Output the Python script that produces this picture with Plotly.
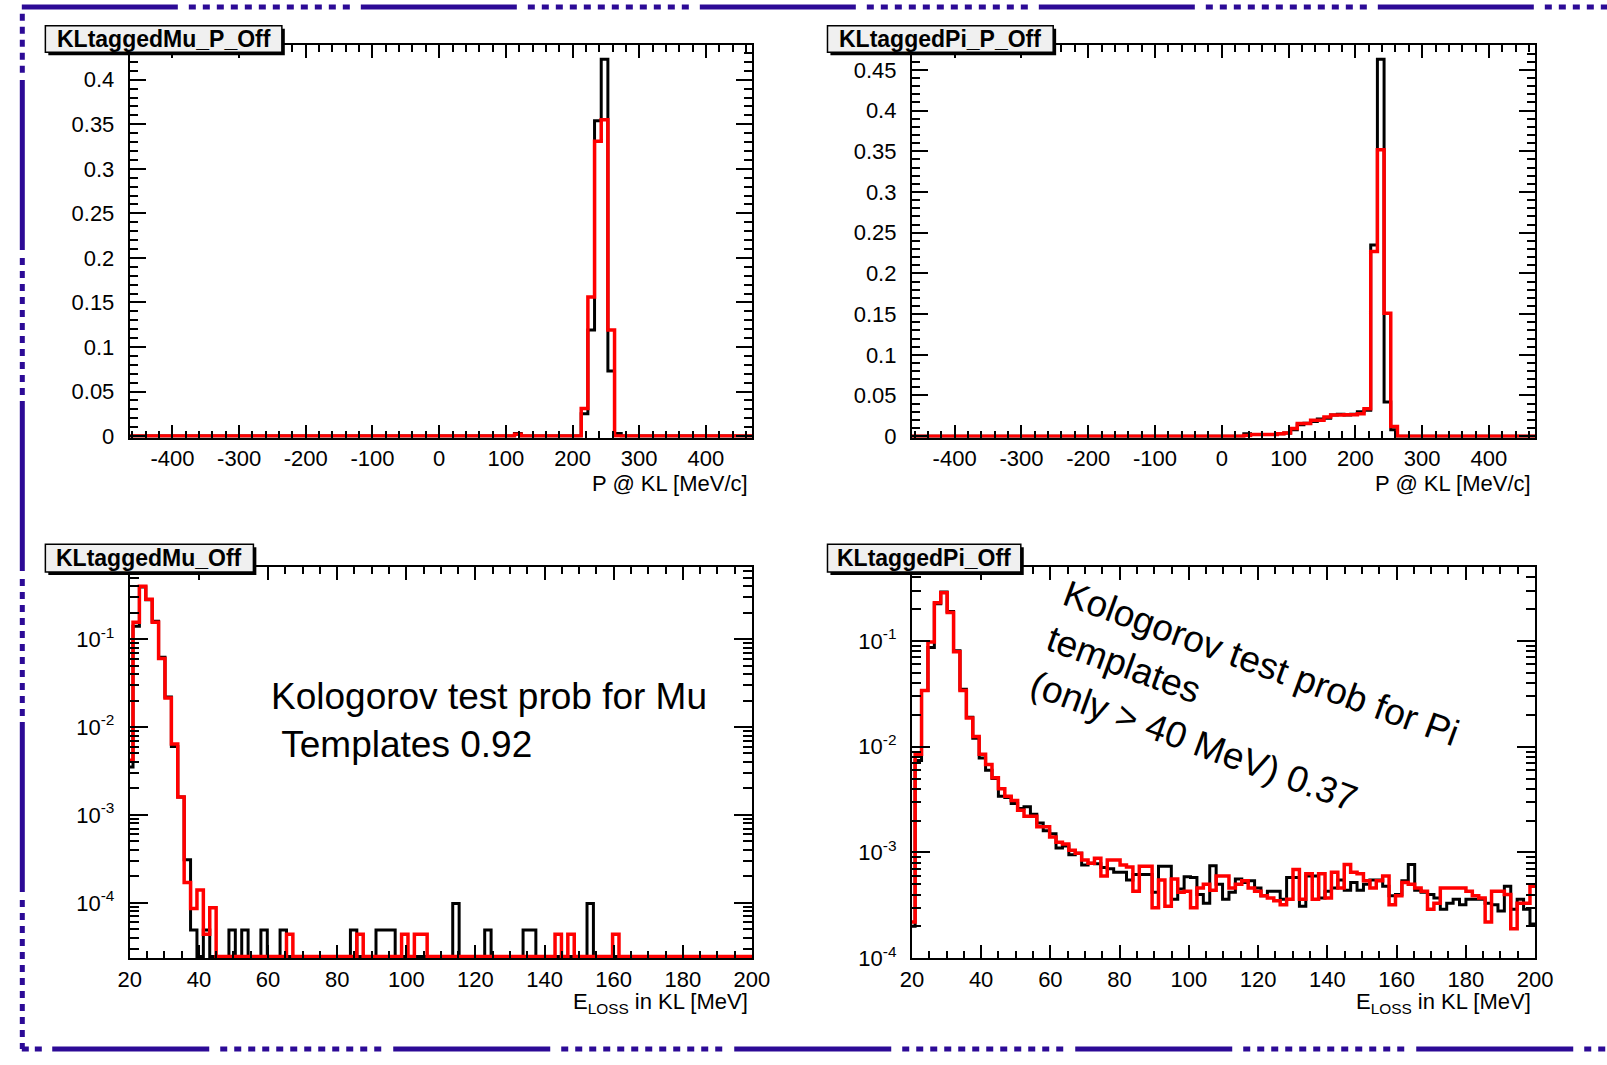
import plotly.graph_objects as go

W, H = 1607, 1065
FONT = "Liberation Sans, Arial, Helvetica, sans-serif"

# ------------------------------------------------------------------
# DATA
# ------------------------------------------------------------------
# Momentum histograms: 10 MeV/c bins, low edges listed for non-empty bins
P_BIN_START = -467.0
P_BIN_WIDTH = 10.0
P_NBINS = 94

MU_P_BIN_LOW = [113, 213, 223, 233, 243, 253, 263]
MU_P_DATA = [0.003, 0.025, 0.119, 0.354, 0.423, 0.073, 0.003]
MU_P_MC = [0.002, 0.031, 0.156, 0.331, 0.355, 0.119, 0.0]

PI_P_BIN_LOW = [33, 43, 53, 63, 73, 83, 93, 103, 113, 123, 133, 143,
                153, 163, 173, 183, 193, 203, 213, 223, 233, 243, 253]
PI_P_DATA = [0.003, 0.002, 0.002, 0.002, 0.002, 0.003, 0.004, 0.008, 0.014,
             0.016, 0.018, 0.021, 0.022, 0.026, 0.027, 0.026, 0.027, 0.030,
             0.032, 0.235, 0.463, 0.042, 0.008]
PI_P_MC = [0.001, 0.002, 0.002, 0.002, 0.002, 0.003, 0.004, 0.0094, 0.0155,
           0.0155, 0.0195, 0.0195, 0.0236, 0.026, 0.026, 0.0265, 0.0265,
           0.0276, 0.0336, 0.227, 0.352, 0.151, 0.012]

# Energy-loss histograms: bins of 1.85 MeV, first bin starts below 20 MeV
E_BIN_START = 19.09
E_BIN_WIDTH = 1.85
E_NBINS = 98

MU_E_MC = [
    4.2e-3,
    0.155, 0.40, 0.284, 0.155, 0.060, 0.0214, 6.4e-3, 1.6e-3, 1.7e-4, 8.6e-5,
    1.4e-4, 4.4e-5, 8.8e-5, 0, 0, 0, 0, 0, 0, 0,
    0, 0, 0, 0, 4.4e-5, 0, 0, 0, 0, 0,
    0, 0, 0, 0, 0, 4.4e-5, 0, 0, 0, 0,
    0, 0, 4.4e-5, 0, 4.4e-5, 4.4e-5, 0, 0, 0, 0,
    0, 0, 0, 0, 0, 0, 0, 0, 0, 0,
    0, 0, 0, 0, 0, 0, 4.4e-5, 0, 4.4e-5, 0,
    0, 0, 0, 0, 0, 4.4e-5, 0, 0, 0, 0,
    0, 0, 0, 0, 0, 0, 0, 0, 0, 0,
    0, 0, 0, 0, 0, 0, 0,
]
MU_E_DATA = [
    3.5e-3,
    0.14, 0.39, 0.28, 0.16, 0.062, 0.022, 6.0e-3, 1.6e-3, 3.1e-4, 4.9e-5,
    0, 4.9e-5, 0, 0, 0, 4.9e-5, 0, 4.9e-5, 0, 0,
    4.9e-5, 0, 0, 4.9e-5, 0, 0, 0, 0, 0, 0,
    0, 0, 0, 0, 4.9e-5, 0, 0, 0, 4.9e-5, 4.9e-5,
    4.9e-5, 0, 0, 0, 0, 0, 0, 0, 0, 0,
    9.8e-5, 0, 0, 0, 0, 4.9e-5, 0, 0, 0, 0,
    0, 4.9e-5, 4.9e-5, 0, 0, 0, 0, 0, 0, 0,
    0, 9.8e-5, 0, 0, 0, 0, 0, 0, 0, 0,
    0, 0, 0, 0, 0, 0, 0, 0, 0, 0,
    0, 0, 0, 0, 0, 0, 0,
]
PI_E_MC = [
    2.2e-4,
    8.5e-3, 0.034, 0.098, 0.23, 0.286, 0.186, 0.079, 0.034, 0.0187, 0.0125,
    8.5e-3, 6.8e-3, 5.1e-3, 4.0e-3, 3.4e-3, 3.1e-3, 2.5e-3, 2.2e-3, 2.2e-3, 1.75e-3,
    1.75e-3, 1.4e-3, 1.25e-3, 1.2e-3, 1.05e-3, 9.8e-4, 8.5e-4, 7.9e-4, 8.8e-4, 6.0e-4,
    8.5e-4, 8.5e-4, 7.6e-4, 7.3e-4, 4.3e-4, 7.4e-4, 7.4e-4, 3.0e-4, 5.5e-4, 3.1e-4,
    5.6e-4, 4.2e-4, 4.3e-4, 3.0e-4, 4.6e-4, 5.0e-4, 4.4e-4, 6.0e-4, 6.0e-4, 4.6e-4,
    5.0e-4, 5.4e-4, 4.6e-4, 4.3e-4, 3.9e-4, 3.7e-4, 3.5e-4, 3.2e-4, 3.6e-4, 6.9e-4,
    3.6e-4, 6.3e-4, 3.6e-4, 6.3e-4, 3.7e-4, 6.5e-4, 4.6e-4, 7.7e-4, 6.5e-4, 6.3e-4,
    5.4e-4, 4.6e-4, 5.4e-4, 6.0e-4, 3.2e-4, 3.9e-4, 5.2e-4, 5.0e-4, 4.6e-4, 4.3e-4,
    2.9e-4, 3.3e-4, 4.6e-4, 4.6e-4, 4.6e-4, 4.6e-4, 4.3e-4, 3.9e-4, 3.7e-4, 2.2e-4,
    4.3e-4, 4.3e-4, 4.0e-4, 1.9e-4, 3.3e-4, 3.3e-4, 4.8e-4,
]
PI_E_DATA = [
    2.0e-4,
    7.4e-3, 0.034, 0.087, 0.225, 0.29, 0.19, 0.081, 0.035, 0.019, 0.012,
    7.8e-3, 6.0e-3, 5.0e-3, 3.4e-3, 3.3e-3, 2.9e-3, 2.6e-3, 2.7e-3, 2.3e-3, 1.9e-3,
    1.6e-3, 1.5e-3, 1.1e-3, 1.15e-3, 9.5e-4, 9.8e-4, 7.6e-4, 7.9e-4, 7.8e-4, 7.2e-4,
    7.0e-4, 6.5e-4, 6.5e-4, 5.5e-4, 6.2e-4, 6.2e-4, 6.2e-4, 4.2e-4, 7.4e-4, 7.4e-4,
    3.6e-4, 4.5e-4, 5.9e-4, 5.8e-4, 4.0e-4, 3.3e-4, 7.5e-4, 5.0e-4, 3.6e-4, 4.2e-4,
    5.6e-4, 5.2e-4, 5.4e-4, 4.6e-4, 3.9e-4, 4.3e-4, 4.3e-4, 3.6e-4, 5.8e-4, 5.8e-4,
    3.1e-4, 6.0e-4, 6.0e-4, 3.7e-4, 4.3e-4, 4.6e-4, 5.5e-4, 4.4e-4, 5.2e-4, 4.4e-4,
    5.0e-4, 5.5e-4, 5.5e-4, 4.8e-4, 3.9e-4, 4.0e-4, 5.4e-4, 7.7e-4, 4.4e-4, 4.2e-4,
    4.0e-4, 3.7e-4, 2.9e-4, 3.3e-4, 3.6e-4, 3.2e-4, 3.6e-4, 3.6e-4, 3.6e-4, 3.3e-4,
    3.2e-4, 2.8e-4, 4.8e-4, 2.9e-4, 3.6e-4, 2.9e-4, 2.1e-4,
]

PANEL_TITLES = ["KLtaggedMu_P_Off", "KLtaggedPi_P_Off", "KLtaggedMu_Off", "KLtaggedPi_Off"]
P_TICKS = [-400, -300, -200, -100, 0, 100, 200, 300, 400]
E_TICKS = [20, 40, 60, 80, 100, 120, 140, 160, 180, 200]
MU_P_YTICKS = [0, 0.05, 0.1, 0.15, 0.2, 0.25, 0.3, 0.35, 0.4]
PI_P_YTICKS = [0, 0.05, 0.1, 0.15, 0.2, 0.25, 0.3, 0.35, 0.4, 0.45]
LOG_TICKS = [1e-4, 1e-3, 1e-2, 1e-1]
LOG_TICKTEXT = ["10<sup>-4</sup>", "10<sup>-3</sup>", "10<sup>-2</sup>", "10<sup>-1</sup>"]
P_AXIS_TITLE = "P @ KL [MeV/c]"
E_AXIS_TITLE = "E<sub>LOSS</sub> in KL [MeV]"
TEXT_MU = "Kologorov test prob for Mu<br>\u00a0Templates 0.92"
TEXT_PI = "Kologorov test prob for Pi<br>templates<br>(only > 40 MeV) 0.37"

DATA_COLOR = "black"
MC_COLOR = "#ff0000"
BORDER_COLOR = "#2c0a96"


# ------------------------------------------------------------------
# helpers
# ------------------------------------------------------------------
def px(x):
    return x / W


def py(y):
    return 1 - y / H


def fill_p(lows, vals):
    out = [0.0] * P_NBINS
    for lo, v in zip(lows, vals):
        out[int(round((lo - P_BIN_START) / P_BIN_WIDTH))] = v
    return out


P_EDGES = [P_BIN_START + P_BIN_WIDTH * i for i in range(P_NBINS + 1)]
E_EDGES = [E_BIN_START + E_BIN_WIDTH * i for i in range(E_NBINS + 1)]


def step(edges, vals, color, width, xa, ya):
    return go.Scatter(x=edges, y=list(vals) + [vals[-1]], mode="lines",
                      line=dict(color=color, width=width, shape="hv"),
                      xaxis=xa, yaxis=ya, showlegend=False, hoverinfo="skip")


def floor_zero(vals, floor):
    return [v if v > 0 else floor for v in vals]


# panel frames (pixel coordinates)
FRAMES = {
    1: (120, 754, 46, 443),
    2: (917, 1552, 46, 443),
    3: (120, 754, 574, 970),
    4: (917, 1552, 574, 970),
}

fig = go.Figure()

BL_RANGE = [-4.629, -0.180]
BR_RANGE = [-4.0, -0.30]
BL_FLOOR = 10 ** (BL_RANGE[0] + 0.02)
BR_FLOOR = 10 ** (BR_RANGE[0] + 0.015)

fig.add_trace(step(P_EDGES, fill_p(MU_P_BIN_LOW, MU_P_DATA), DATA_COLOR, 3, "x", "y"))
fig.add_trace(step(P_EDGES, fill_p(MU_P_BIN_LOW, MU_P_MC), MC_COLOR, 3.5, "x", "y"))
fig.add_trace(step(P_EDGES, fill_p(PI_P_BIN_LOW, PI_P_DATA), DATA_COLOR, 3, "x2", "y2"))
fig.add_trace(step(P_EDGES, fill_p(PI_P_BIN_LOW, PI_P_MC), MC_COLOR, 3.5, "x2", "y2"))
fig.add_trace(step(E_EDGES, floor_zero(MU_E_DATA, BL_FLOOR), DATA_COLOR, 3, "x3", "y3"))
fig.add_trace(step(E_EDGES, floor_zero(MU_E_MC, BL_FLOOR), MC_COLOR, 3.5, "x3", "y3"))
fig.add_trace(step(E_EDGES, floor_zero(PI_E_DATA, BR_FLOOR), DATA_COLOR, 3, "x4", "y4"))
fig.add_trace(step(E_EDGES, floor_zero(PI_E_MC, BR_FLOOR), MC_COLOR, 3.5, "x4", "y4"))


def fmt(v):
    return "%g" % v


TICK_FONT = dict(family=FONT, size=22, color="black")


def base_axis():
    return dict(showline=True, linecolor="black", linewidth=2, mirror="ticks",
                ticks="inside", tickcolor="black", tickwidth=2,
                showgrid=False, zeroline=False, fixedrange=True,
                tickfont=TICK_FONT, tickmode="array")


P_MINOR = [v for v in range(-460, 461, 20) if v % 100 != 0]
E_MINOR = [v for v in range(25, 200, 5) if v % 20 != 0]


def log_minor(lo, hi):
    out = []
    for e in range(-6, 1):
        for m in range(2, 10):
            v = m * 10 ** e
            if 10 ** lo < v < 10 ** hi:
                out.append(v)
    return out


layout_axes = {}
for i in (1, 2, 3, 4):
    x0, x1, y0, y1 = FRAMES[i]
    xa = base_axis()
    ya = base_axis()
    sfx = "" if i == 1 else str(i)
    xa.update(domain=[px(x0), px(x1)], anchor="y" + sfx, ticklen=13,
              ticklabelstandoff=0)
    ya.update(domain=[py(y1), py(y0)], anchor="x" + sfx, ticklabelstandoff=9)
    if i in (1, 2):
        xa.update(range=[-464, 469], tickvals=P_TICKS, ticktext=[str(t) for t in P_TICKS],
                  minor=dict(ticks="inside", ticklen=7, tickwidth=1.5, tickcolor="black",
                             tickmode="array", tickvals=P_MINOR))
        yt = MU_P_YTICKS if i == 1 else PI_P_YTICKS
        top = 0.4385 if i == 1 else 0.480
        ya.update(range=[-0.0017, top], tickvals=yt, ticktext=[fmt(t) for t in yt],
                  ticklen=16,
                  minor=dict(ticks="inside", ticklen=8, tickwidth=1.5, tickcolor="black",
                             tickmode="array",
                             tickvals=[k / 100 for k in range(1, int(top * 100) + 1) if k % 5 != 0]))
    else:
        rng = BL_RANGE if i == 3 else BR_RANGE
        xa.update(range=[20, 200], tickvals=E_TICKS, ticktext=[str(t) for t in E_TICKS],
                  minor=dict(ticks="inside", ticklen=7, tickwidth=1.5, tickcolor="black",
                             tickmode="array", tickvals=E_MINOR))
        ya.update(type="log", range=rng, tickvals=LOG_TICKS, ticktext=LOG_TICKTEXT,
                  ticklen=18,
                  minor=dict(ticks="inside", ticklen=9, tickwidth=1.5, tickcolor="black",
                             tickmode="array", tickvals=log_minor(*rng)))
    layout_axes["xaxis" + sfx] = xa
    layout_axes["yaxis" + sfx] = ya

fig.update_layout(**layout_axes)

shapes = []
annotations = []

# panel title boxes (with ROOT-style shadow)
TITLE_BOXES = [(34, 275, 26, 53), (831, 1061, 26, 53), (34, 246, 551, 579), (831, 1028, 551, 579)]
for (bx0, bx1, by0, by1), title in zip(TITLE_BOXES, PANEL_TITLES):
    shapes.append(dict(type="rect", xref="paper", yref="paper",
                       x0=px(bx0 + 3), x1=px(bx1 + 3), y0=py(by1 + 3), y1=py(by0 + 3),
                       fillcolor="black", line=dict(width=0), layer="above"))
    shapes.append(dict(type="rect", xref="paper", yref="paper",
                       x0=px(bx0), x1=px(bx1), y0=py(by1), y1=py(by0),
                       fillcolor="#f0f0f0", line=dict(color="black", width=1.5), layer="above"))
    annotations.append(dict(xref="paper", yref="paper", x=px((bx0 + bx1) / 2),
                            y=py((by0 + by1) / 2), xanchor="center", yanchor="middle",
                            text="<b>%s</b>" % title, showarrow=False,
                            font=dict(family=FONT, size=23, color="black")))

# axis titles (right-aligned under the axes, ROOT style)
for i in (1, 2):
    annotations.append(dict(xref="paper", yref="paper", x=px(FRAMES[i][1] - 2), y=py(489),
                            xanchor="right", yanchor="middle", showarrow=False,
                            text=P_AXIS_TITLE,
                            font=dict(family=FONT, size=22, color="black")))
for i in (3, 4):
    annotations.append(dict(xref="paper", yref="paper", x=px(FRAMES[i][1] - 2), y=py(1015),
                            xanchor="right", yanchor="middle", showarrow=False,
                            text=E_AXIS_TITLE,
                            font=dict(family=FONT, size=22, color="black")))

# Kolmogorov test text
annotations.append(dict(xref="paper", yref="paper", x=px(262), y=py(729),
                        xanchor="left", yanchor="middle", align="left", showarrow=False,
                        text=TEXT_MU, font=dict(family=FONT, size=37, color="black")))
annotations.append(dict(xref="paper", yref="paper", x=px(1256), y=py(717),
                        xanchor="center", yanchor="middle", align="left", showarrow=False,
                        textangle=20,
                        text=TEXT_PI, font=dict(family=FONT, size=37, color="black")))


# outer dashed/dotted slide border
def dash(pattern):
    return ",".join("%dpx" % p for p in pattern)


TOP_PAT = [156, 11] + [7, 7] * 11 + [7, 11]
BOT_PAT = [157, 11] + [7, 7] * 11 + [7, 12]
LEFT_PAT = [170, 8] + [7, 6] * 10 + [7, 6]
BW = 5
shapes.append(dict(type="line", xref="paper", yref="paper", x0=px(10), x1=px(1640),
                   y0=py(7), y1=py(7), line=dict(color=BORDER_COLOR, width=BW, dash=dash(TOP_PAT)),
                   layer="above"))
shapes.append(dict(type="line", xref="paper", yref="paper", x0=px(41), x1=px(1640),
                   y0=py(1062), y1=py(1062), line=dict(color=BORDER_COLOR, width=BW, dash=dash(BOT_PAT)),
                   layer="above"))
shapes.append(dict(type="line", xref="paper", yref="paper", x0=px(10), x1=px(36),
                   y0=py(1062), y1=py(1062), line=dict(color=BORDER_COLOR, width=BW, dash="7px,6px"),
                   layer="above"))
shapes.append(dict(type="line", xref="paper", yref="paper", x0=px(10.5), x1=px(10.5),
                   y0=py(81), y1=py(1062), line=dict(color=BORDER_COLOR, width=BW, dash=dash(LEFT_PAT)),
                   layer="above"))
shapes.append(dict(type="line", xref="paper", yref="paper", x0=px(10.5), x1=px(10.5),
                   y0=py(14), y1=py(76), line=dict(color=BORDER_COLOR, width=BW, dash="7px,6px"),
                   layer="above"))

fig.update_layout(width=W, height=H, margin=dict(l=0, r=0, t=0, b=0),
                  paper_bgcolor="white", plot_bgcolor="white",
                  font=dict(family=FONT, color="black"),
                  shapes=shapes, annotations=annotations, showlegend=False)

fig.write_html("out.html")
